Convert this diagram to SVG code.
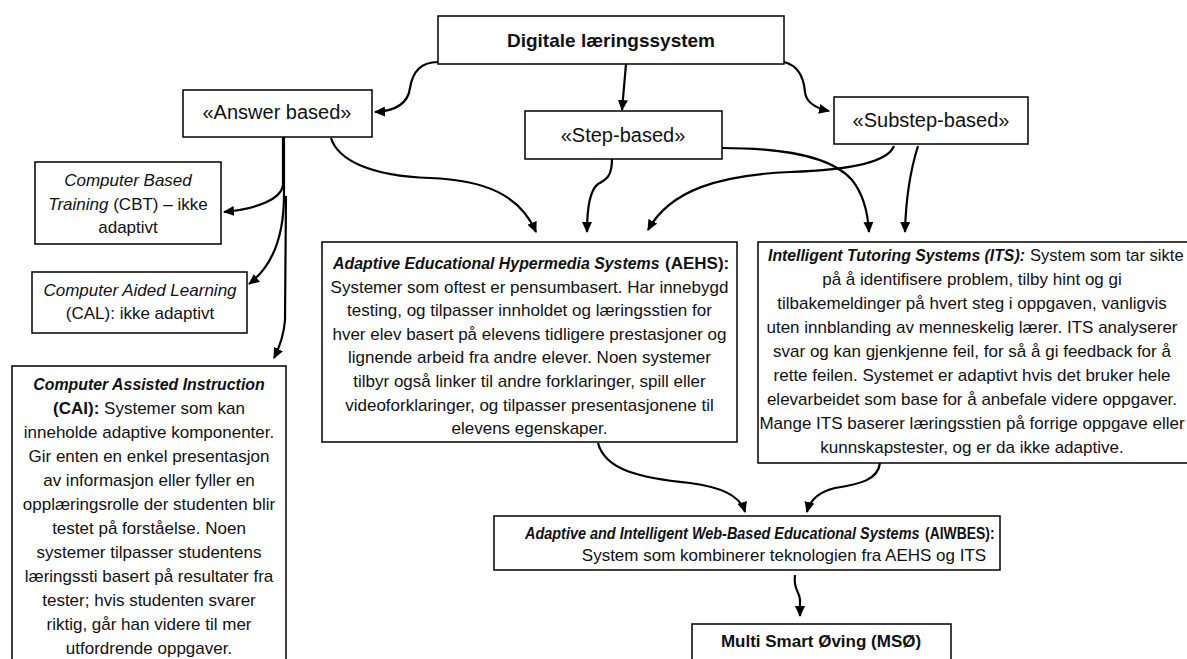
<svg xmlns="http://www.w3.org/2000/svg" width="1187" height="659" viewBox="0 0 1187 659">
<defs>
<marker id="ah" markerUnits="userSpaceOnUse" markerWidth="12" markerHeight="10" refX="10" refY="5" orient="auto">
<path d="M0,0 L11,5 L0,10 z" fill="#000"/>
</marker>
<style>
.box{fill:#fff;stroke:#000;stroke-width:1.5}
text{font-family:"Liberation Sans",Arial,sans-serif;fill:#111;font-size:17px;text-anchor:middle}
.lbl{font-size:20px}
.hd{font-size:19px;font-weight:bold}
.i{font-style:italic}
.b{font-weight:bold}
.bi{font-weight:bold;font-style:italic}
.st{text-anchor:start}
.con path{fill:none;stroke:#000;stroke-width:2.2;marker-end:url(#ah)}
</style>
</defs>
<rect width="1187" height="659" fill="#fff"/>

<g class="con" id="connectors">
<path d="M438,62 C418,62 412,75 410,88 C408,104 395,111 375,112"/>
<path d="M626,64 L622,110"/>
<path d="M784,62 C800,66 804,80 805,92 C806,102 815,108 829,111"/>
<path d="M283,137 L283,185 C281,200 255,209 224,212"/>
<path d="M284,137 L284,195 C284,240 270,268 249,284"/>
<path d="M286,196 L285,320 C284,335 280,346 274,358"/>
<path d="M331,138 C338,160 370,176 430,178 C485,180 520,195 536,232"/>
<path d="M612,159 C612,178 605,180 598,184 C590,190 587,210 587,232"/>
<path d="M894,146 C888,162 850,170 790,172 C720,175 670,190 648,230"/>
<path d="M722,148 C780,148 830,155 852,180 C864,195 868,215 869,232"/>
<path d="M918,146 C912,165 906,190 905,232"/>
<path d="M598,443 C605,470 640,478 690,483 C720,487 740,495 745,512"/>
<path d="M880,463 C878,480 860,484 835,488 C818,492 810,500 807,512"/>
<path d="M795,575 C793,590 800,592 800,600 L800,616"/>
</g>

<g id="digitale">
<rect class="box" x="438" y="16" width="346" height="48"/>
<text class="hd" x="611" y="47">Digitale læringssystem</text>
</g>
<g id="answer">
<rect class="box" x="183" y="90" width="189" height="47"/>
<text class="lbl" x="277" y="119">«Answer based»</text>
</g>
<g id="step">
<rect class="box" x="525" y="111" width="197" height="48"/>
<text class="lbl" x="623" y="142">«Step-based»</text>
</g>
<g id="substep">
<rect class="box" x="834" y="97" width="194" height="47"/>
<text class="lbl" x="931" y="127">«Substep-based»</text>
</g>
<g id="cbt">
<rect class="box" x="35" y="162" width="186" height="82"/>
<text x="128" y="186" class="i">Computer Based</text>
<text x="128" y="210"><tspan class="i">Training</tspan> (CBT) – ikke</text>
<text x="128" y="233">adaptivt</text>
</g>
<g id="cal">
<rect class="box" x="32" y="272" width="215" height="61"/>
<text x="140" y="296" class="i">Computer Aided Learning</text>
<text x="140" y="319">(CAL): ikke adaptivt</text>
</g>
<g id="cai">
<rect class="box" x="12" y="366" width="274" height="310"/>
<text class="bi" transform="translate(149,390) scale(0.935,1)">Computer Assisted Instruction</text>
<text x="149" y="414"><tspan class="b">(CAI):</tspan> Systemer som kan</text>
<text x="149" y="438">inneholde adaptive komponenter.</text>
<text x="149" y="462">Gir enten en enkel presentasjon</text>
<text x="149" y="486">av informasjon eller fyller en</text>
<text x="149" y="510">opplæringsrolle der studenten blir</text>
<text x="149" y="534">testet på forståelse. Noen</text>
<text x="149" y="558">systemer tilpasser studentens</text>
<text x="149" y="582">læringssti basert på resultater fra</text>
<text x="149" y="606">tester; hvis studenten svarer</text>
<text x="149" y="630">riktig, går han videre til mer</text>
<text x="149" y="654">utfordrende oppgaver.</text>
</g>
<g id="aehs">
<rect class="box" x="322" y="242" width="415" height="200"/>
<text class="bi st" transform="translate(333,269) scale(0.935,1)">Adaptive Educational Hypermedia Systems</text>
<text x="665" y="269" class="b st">(AEHS):</text>
<text x="529.5" y="292.6">Systemer som oftest er pensumbasert. Har innebygd</text>
<text x="529.5" y="316.2">testing, og tilpasser innholdet og læringsstien for</text>
<text x="529.5" y="339.8">hver elev basert på elevens tidligere prestasjoner og</text>
<text x="529.5" y="363.4">lignende arbeid fra andre elever. Noen systemer</text>
<text x="529.5" y="387">tilbyr også linker til andre forklaringer, spill eller</text>
<text x="529.5" y="410.6">videoforklaringer, og tilpasser presentasjonene til</text>
<text x="529.5" y="434.2">elevens egenskaper.</text>
</g>
<g id="its">
<rect class="box" x="758" y="242" width="440" height="221"/>
<text class="bi st" transform="translate(768,261) scale(0.93,1)">Intelligent Tutoring Systems (ITS):</text>
<text class="st" transform="translate(1030,261) scale(0.975,1)">System som tar sikte</text>
<text x="972" y="285">på å identifisere problem, tilby hint og gi</text>
<text x="972" y="309">tilbakemeldinger på hvert steg i oppgaven, vanligvis</text>
<text x="972" y="333">uten innblanding av menneskelig lærer. ITS analyserer</text>
<text x="972" y="357">svar og kan gjenkjenne feil, for så å gi feedback for å</text>
<text x="972" y="381">rette feilen. Systemet er adaptivt hvis det bruker hele</text>
<text x="972" y="405">elevarbeidet som base for å anbefale videre oppgaver.</text>
<text x="972" y="429">Mange ITS baserer læringsstien på forrige oppgave eller</text>
<text x="972" y="453">kunnskapstester, og er da ikke adaptive.</text>
</g>
<g id="aiwbes">
<rect class="box" x="494" y="516" width="506" height="54"/>
<text class="bi st" transform="translate(525,539) scale(0.85,1)">Adaptive and Intelligent Web-Based Educational Systems</text>
<text class="b st" transform="translate(925,539) scale(0.82,1)">(AIWBES):</text>
<text x="784" y="561">System som kombinerer teknologien fra AEHS og ITS</text>
</g>
<g id="mso">
<rect class="box" x="692" y="624" width="259" height="50"/>
<text class="hd" x="821" y="647" style="font-size:17px">Multi Smart Øving (MSØ)</text>
</g>
</svg>
